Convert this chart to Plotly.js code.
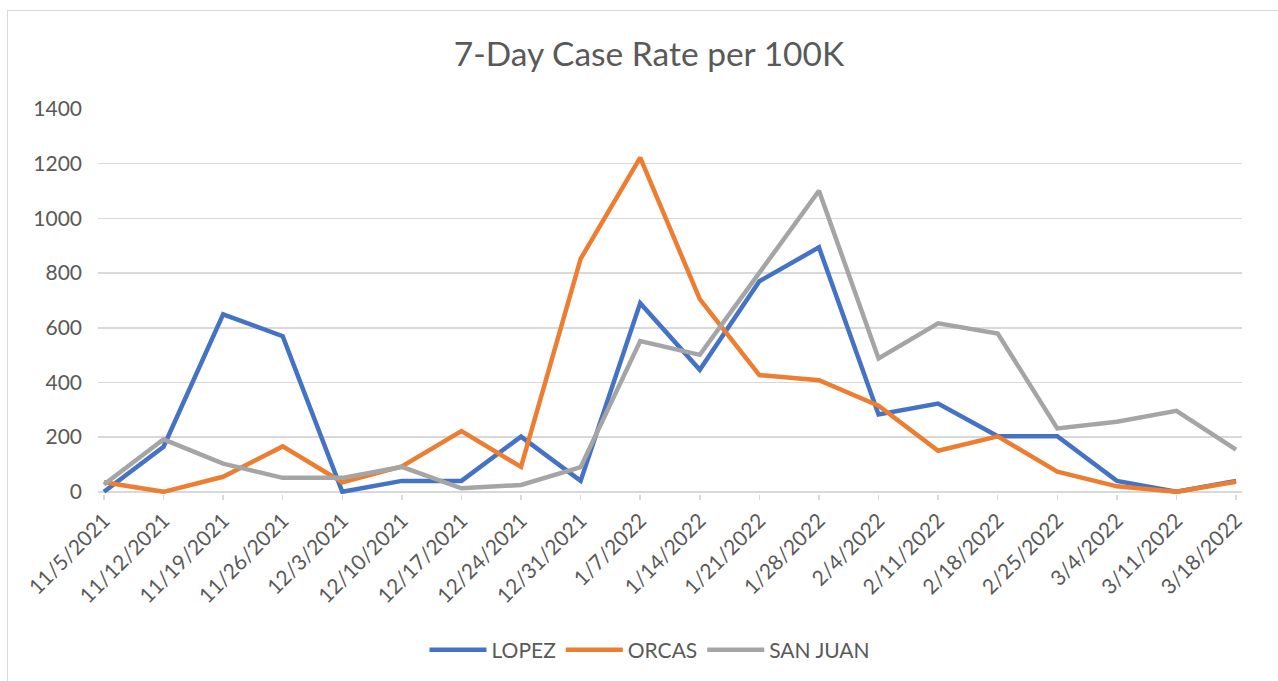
<!DOCTYPE html>
<html>
<head>
<meta charset="utf-8">
<script src="https://cdn.plot.ly/plotly-3.0.1.min.js"></script>
<style>
  html, body { margin: 0; padding: 0; background: #ffffff; }
  #frame { position: absolute; left: 7px; top: 10px; width: 1300px; height: 700px; border: 1px solid #d9d9d9; box-sizing: border-box; }
  #chart { position: absolute; left: 0; top: 0; width: 1278px; height: 681px; }
</style>
</head>
<body>
<div id="frame"></div>
<div id="chart"></div>
<script>
const categories = ["11/5/2021","11/12/2021","11/19/2021","11/26/2021","12/3/2021","12/10/2021","12/17/2021","12/24/2021","12/31/2021","1/7/2022","1/14/2022","1/21/2022","1/28/2022","2/4/2022","2/11/2022","2/18/2022","2/25/2022","3/4/2022","3/11/2022","3/18/2022"];
const lopez   = [0, 165, 649, 569, 0, 40, 40, 202, 40, 690, 446, 770, 894, 283, 323, 203, 203, 40, 0, 40];
const orcas   = [35, 0, 55, 166, 35, 93, 222, 91, 852, 1222, 705, 427, 408, 315, 150, 203, 74, 20, 0, 37];
const sanJuan = [27, 192, 103, 51, 51, 91, 13, 25, 90, 551, 501, 800, 1101, 488, 616, 579, 232, 256, 296, 154];
const seriesNames = ["LOPEZ", "ORCAS", "SAN JUAN"];
const seriesColors = ["#4472C4", "#ED7D31", "#A5A5A5"];

const FONT = "Lato, 'Open Sans', sans-serif";
const TXT = "#595959";
const GRID = "#d9d9d9";

const xIdx = categories.map((_, i) => i);
const data = [lopez, orcas, sanJuan].map((vals, k) => ({
  type: "scatter",
  mode: "lines",
  name: seriesNames[k],
  x: xIdx,
  y: vals,
  line: { color: seriesColors[k], width: 4.5, shape: "linear" },
  hoverinfo: "x+y+name"
}));

const layout = {
  width: 1278,
  height: 681,
  paper_bgcolor: "rgba(0,0,0,0)",
  plot_bgcolor: "rgba(0,0,0,0)",
  margin: { l: 98, r: 36, t: 109, b: 187, pad: 0 },
  font: { family: FONT, color: TXT, size: 21 },
  title: {
    text: "7-Day Case Rate per 100K",
    font: { family: FONT, size: 33.5, color: TXT },
    x: 649 / 1278, xref: "container", xanchor: "center",
    y: 1 - 54 / 681, yref: "container", yanchor: "middle"
  },
  xaxis: {
    type: "linear",
    range: [-0.1, 19.1],
    tickmode: "array",
    tickvals: xIdx,
    ticktext: categories,
    tickangle: -45,
    ticks: "outside",
    ticklen: 5,
    tickcolor: GRID,
    tickwidth: 1.5,
    showgrid: false,
    zeroline: false,
    showline: false,
    tickfont: { family: FONT, size: 21, color: TXT },
    automargin: false
  },
  yaxis: {
    range: [-8, 1400],
    tickmode: "array",
    tickvals: [0, 200, 400, 600, 800, 1000, 1200, 1400],
    showgrid: true,
    gridcolor: GRID,
    gridwidth: 1.5,
    zeroline: true,
    zerolinecolor: GRID,
    zerolinewidth: 1.5,
    showline: false,
    ticks: "",
    ticklabelstandoff: 15,
    tickfont: { family: FONT, size: 21, color: TXT },
    automargin: false
  },
  showlegend: true,
  legend: {
    orientation: "h",
    x: 650 / 1278, xref: "container", xanchor: "center",
    y: 1 - 650 / 681, yref: "container", yanchor: "middle",
    font: { family: FONT, size: 21, color: TXT },
    itemwidth: 57,
    bgcolor: "rgba(0,0,0,0)",
    itemclick: false
  }
};

Plotly.newPlot("chart", data, layout, { displayModeBar: false, staticPlot: true });
</script>
</body>
</html>
